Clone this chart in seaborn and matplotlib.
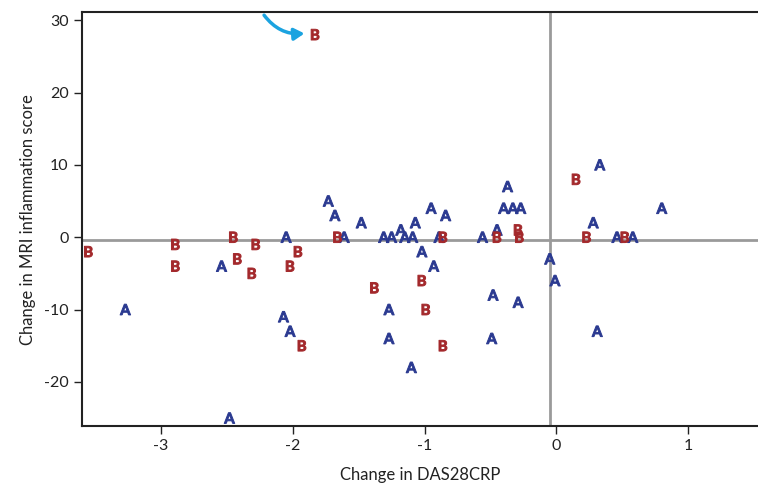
import matplotlib
matplotlib.use("Agg")
import matplotlib.pyplot as plt
import seaborn as sns
import pandas as pd

# group A points (change in DAS28CRP, change in MRI score)
a_x = [-3.27, -2.54, -2.05, -2.07, -2.02, -2.48, -1.73, -1.68, -1.61, -1.48,
       -1.31, -1.25, -1.18, -1.15, -1.09, -1.07, -0.95, -0.84, -0.89, -1.02,
       -0.93, -1.27, -1.27, -1.10, -0.56, -0.37, -0.40, -0.33, -0.27, -0.45,
       -0.05, -0.01, -0.48, -0.29, -0.49, 0.33, 0.80, 0.28, 0.46, 0.58, 0.31]
a_y = [-10, -4, 0, -11, -13, -25, 5, 3, 0, 2,
       0, 0, 1, 0, 0, 2, 4, 3, 0, -2,
       -4, -10, -14, -18, 0, 7, 4, 4, 4, 1,
       -3, -6, -8, -9, -14, 10, 4, 2, 0, 0, -13]

# group B points
b_x = [-3.55, -2.89, -2.89, -2.45, -2.42, -2.28, -2.31, -2.02, -1.96, -1.93,
       -1.83, -1.66, -0.86, -1.38, -1.02, -0.99, -0.86, -0.45, -0.29, -0.28,
       0.15, 0.23, 0.52]
b_y = [-2, -1, -4, 0, -3, -1, -5, -4, -2, -15,
       28, 0, 0, -7, -6, -10, -15, 0, 1, 0,
       8, 0, 0]

ref_x = -0.05
ref_y = -0.4
x_ticks = [-3, -2, -1, 0, 1]
y_ticks = [-20, -10, 0, 10, 20, 30]

df = pd.DataFrame({
    "das": a_x + b_x,
    "mri": a_y + b_y,
    "group": ["A"] * len(a_x) + ["B"] * len(b_x),
})

sns.set_style("ticks")
plt.rcParams["font.family"] = ["Lato", "DejaVu Sans"]
plt.rcParams["axes.unicode_minus"] = False
plt.rcParams["mathtext.fontset"] = "custom"
plt.rcParams["mathtext.bf"] = "Lato:bold"
plt.rcParams["mathtext.rm"] = "Lato:bold"

fig = plt.figure(figsize=(7.58, 4.88), dpi=100)
ax = fig.add_axes([0.108, 0.127, 0.892, 0.848])

ax.axvline(ref_x, color="#9a9a9a", lw=2, zorder=1)
ax.axhline(ref_y, color="#9a9a9a", lw=2, zorder=1)

sns.scatterplot(data=df, x="das", y="mri", hue="group", style="group",
                markers={"A": r"$\mathbf{A}$", "B": r"$\mathbf{B}$"},
                palette={"A": "#2a3990", "B": "#a3282b"},
                s=60, linewidth=0.7, edgecolor="face", legend=False, ax=ax, zorder=3)

# arrow pointing at the outlier
ax.annotate("", xy=(-1.89, 28.2), xytext=(-2.23, 31.0),
            arrowprops=dict(arrowstyle="-|>,head_length=0.6,head_width=0.35",
                            color="#1ba3e0", lw=2.5,
                            connectionstyle="arc3,rad=0.3"),
            annotation_clip=False)

ax.set_xlim(-3.6, 1.53)
ax.set_ylim(-26.1, 31.1)
ax.set_xticks(x_ticks)
ax.set_yticks(y_ticks)
ax.tick_params(labelsize=11.5, length=6, width=1, colors="#222222")
ax.set_xlabel("Change in DAS28CRP", fontsize=12, color="#222222", labelpad=10)
ax.set_ylabel("Change in MRI inflammation score", fontsize=12, color="#222222", labelpad=6)

for side in ["left", "bottom", "top"]:
    ax.spines[side].set_linewidth(1.5)
    ax.spines[side].set_color("#222222")
ax.spines["right"].set_visible(False)

fig.savefig("out.png", dpi=100)
